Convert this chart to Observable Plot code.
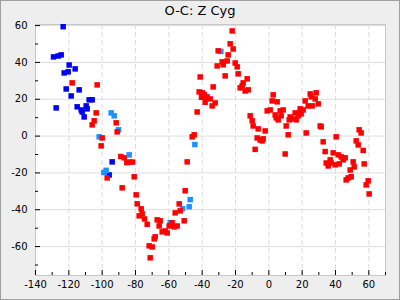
<!DOCTYPE html>
<html><head><meta charset="utf-8">
<script src="https://cdn.jsdelivr.net/npm/d3@7"></script>
<script src="https://cdn.jsdelivr.net/npm/@observablehq/plot@0.6"></script>
<style>
html,body{margin:0;padding:0;background:#eeeeee;}
#wrap{width:400px;height:300px;box-sizing:border-box;border:1px solid #a0a0a0;background:#eeeeee;overflow:hidden;}
#title{height:22px;line-height:20px;text-align:center;font-family:"DejaVu Sans";font-size:13px;color:#000;}
#chart svg{display:block;}
</style></head><body>
<div id="wrap"><div id="title">O-C: Z Cyg</div><div id="chart"></div></div>
<script>
const titleText = "O-C: Z Cyg";
const xMajor = [-140, -120, -100, -80, -60, -40, -20, 0, 20, 40, 60];
const xMinor = [-130, -110, -90, -70, -50, -30, -10, 10, 30, 50, 70];
const yMajor = [-60, -40, -20, 0, 20, 40, 60];
const yMinor = [-70, -50, -30, -10, 10, 30, 50];

const blueX = [-123.4, -129.2, -126.4, -124.6, -119.8, -116.2, -120.4, -122.8, -121.6, -113.8, -118.6, -107.8, -106.0, -127.6, -115.0, -109.6, -109.0, -112.6, -112.0, -110.8, -94.0, -95.8];
const blueY = [59.4, 43.0, 43.5, 44.1, 38.6, 36.5, 34.9, 34.3, 25.6, 25.1, 21.8, 19.7, 19.7, 15.3, 15.9, 16.4, 14.8, 14.2, 13.1, 10.4, -14.0, -21.1];

const lightX = [-94.6, -92.8, -90.2, -101.8, -97.6, -99.0, -83.8, -47.2, -47.8, -51.8, -59.2, -44.4, -28.8, -36.8];
const lightY = [12.6, 11.0, 3.4, -0.4, -18.6, -19.8, -10.2, -34.5, -38.4, -39.4, -47.0, -4.6, 46.0, 21.4];

const redX = [-118.0, -103.0, -103.6, -104.8, -106.0, -91.6, -91.0, -100.0, -100.6,
  -88.8, -86.8, -85.2, -83.8, -81.8,
  -97.0, -88.0, -80.8, -79.6, -79.0, -76.6, -76.0, -77.8, -74.6, -73.0,
  -67.0, -65.2, -65.8, -64.0, -62.2, -61.0, -68.2, -68.8, -71.8, -70.0, -71.2,
  -59.8, -58.0, -56.8, -55.0, -50.8, -56.2, -53.2, -53.8, -50.2, -49.0,
  -44.8, -46.0, -43.0, -41.8, -41.2,
  -40.0, -38.8, -37.6, -35.2, -38.2, -32.2, -34.0, -33.4, -40.4,
  -22.0, -23.2, -21.4, -30.4, -24.4, -28.0, -25.0, -27.4, -31.0, -20.2, -19.0, -26.2, -18.4, -13.0, -15.4, -16.0, -17.2, -14.2, -12.4,
  -11.2, -10.0, -9.4, -6.4, -2.2, -7.0, -5.2, -3.4, -4.0, -8.2,
  11.6, 10.4, 2.6, 2.0, 5.0, -1.0, 0.8, 3.8, 6.8, 8.6, 7.4, 5.6, 4.4, 12.8, 12.2, 9.8,
  24.8, 28.4, 25.4, 27.8, 21.8, 29.6, 23.6, 26.0, 18.8, 20.6, 18.2, 19.4, 15.8, 14.6, 16.4, 17.6,
  22.4, 30.8, 31.4, 32.6, 40.4, 54.2, 55.4, 52.4, 53.6, 56.6,
  33.8, 38.6, 41.6, 43.4, 45.8, 44.6, 36.8, 34.4, 37.4, 39.8, 35.6, 42.2, 50.6, 51.2, 57.2, 48.8, 49.4, 47.6, 46.4, 59.6, 58.4, 60.2];
const redY = [28.9, 27.8, 12.6, 8.3, 6.1, 7.2, 2.3, -1.0, -5.3,
  -11.1, -11.8, -14.4, -14.1, -14.1,
  -22.7, -28.1, -22.1, -31.9, -36.8, -39.5, -42.2, -43.3, -45.0, -47.9,
  -45.5, -46.0, -48.8, -52.0, -51.5, -52.6, -54.7, -55.8, -59.6, -60.2, -66.1,
  -48.8, -47.1, -49.3, -48.8, -46.0, -41.7, -40.6, -36.8, -29.7, -14.0,
  0.7, -0.4, 13.1, 24.0, 32.1,
  23.5, 22.5, 21.1, 20.2, 18.4, 18.0, 16.4, 26.7, 21.1,
  57.1, 50.1, 47.3, 46.3, 44.1, 40.3, 40.8, 38.7, 38.1, 39.7, 37.6, 32.7, 33.8, 31.1, 28.9, 27.3, 26.2, 24.5, 25.1,
  11.0, 8.3, 5.5, 3.9, 2.8, -1.0, -2.1, -1.5, -2.6, -7.2,
  0.7, 5.5, 22.4, 19.1, 18.6, 13.7, 14.2, 11.5, 13.7, 14.2, 11.0, 8.8, 9.9, 10.4, 8.8, -9.7,
  22.9, 23.5, 21.3, 20.2, 19.1, 17.5, 16.4, 16.4, 14.8, 14.2, 12.1, 12.1, 12.6, 9.3, 8.8, 11.0,
  1.7, 5.5, 5.0, -3.1, -0.4, 3.4, 1.7, -2.6, -4.8, -7.8,
  -8.4, -9.1, -10.2, -11.3, -11.8, -12.9, -12.9, -14.6, -14.6, -15.6, -16.2, -15.1, -14.0, -16.7, -15.1, -18.4, -22.1, -22.7, -23.8, -24.3, -26.5, -31.4];

const toRows = (xs, ys) => xs.map((x, i) => ({x, y: ys[i]}));
const blue = toRows(blueX, blueY);
const light = toRows(lightX, lightY);
const red = toRows(redX, redY);
const fmt = d => String(d);

const chart = Plot.plot({
  width: 398, height: 276,
  marginLeft: 34, marginRight: 14, marginTop: 1, marginBottom: 24,
  style: {background: "transparent", fontFamily: "DejaVu Sans", fontSize: "10px", color: "#000", overflow: "visible"},
  x: {domain: [-140, 70], label: null},
  y: {domain: [-75.7, 60.6], label: null},
  marks: [
    Plot.frame({fill: "white", stroke: "none"}),
    Plot.gridY(yMajor, {stroke: "#dddddd", strokeOpacity: 1}),
    Plot.gridX(xMajor, {stroke: "#dddddd", strokeOpacity: 1, strokeDasharray: "5,3"}),
    Plot.frame({stroke: "#c8c8c8"}),
    Plot.tickX(xMajor, {x: d => d, stroke: "black", insetTop: 246}),
    Plot.tickX(xMinor, {x: d => d, stroke: "black", insetTop: 248}),
    Plot.tickY(yMajor, {y: d => d, stroke: "black", insetRight: 345}),
    Plot.tickY(yMinor, {y: d => d, stroke: "black", insetRight: 347}),
    Plot.axisX(xMajor, {tickSize: 0, tickPadding: 5, tickFormat: fmt, label: null, fill: "black"}),
    Plot.axisY(yMajor, {tickSize: 0, tickPadding: 8, tickFormat: fmt, label: null, fill: "black"}),
    Plot.dot(blue, {x: "x", y: "y", symbol: "square", r: 3.1, fill: "#0000f5", stroke: "none"}),
    Plot.dot(light, {x: "x", y: "y", symbol: "square", r: 3.1, fill: "#1e90ff", stroke: "none"}),
    Plot.dot(red, {x: "x", y: "y", symbol: "square", r: 3.1, fill: "#ff0000", stroke: "none"})
  ]
});
document.getElementById("title").textContent = titleText;
document.getElementById("chart").appendChild(chart);
</script>
</body></html>
